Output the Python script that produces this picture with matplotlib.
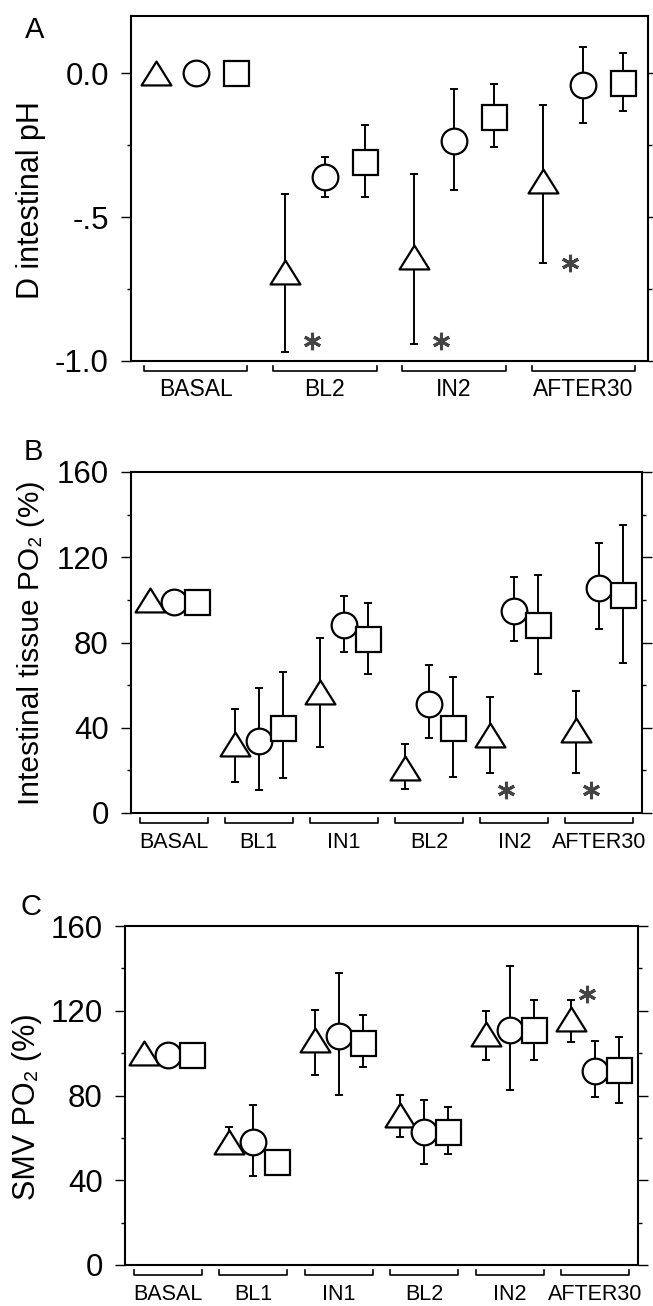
import numpy as np
import matplotlib
matplotlib.use("Agg")
import matplotlib.pyplot as plt
from matplotlib.path import Path

plt.rcParams['font.family'] = ['Liberation Sans', 'DejaVu Sans']

# ---- data ----
groups_A = ["BASAL", "BL2", "IN2", "AFTER30"]
groups_BC = ["BASAL", "BL1", "IN1", "BL2", "IN2", "AFTER30"]

# panel A: delta intestinal pH (mean, whisker low, whisker high)
tri_A = [0, -0.69, -0.64, -0.375]
tri_A_lo = [0, -0.97, -0.94, -0.66]
tri_A_hi = [0, -0.42, -0.35, -0.11]
cir_A = [0, -0.36, -0.236, -0.042]
cir_A_lo = [0, -0.43, -0.406, -0.173]
cir_A_hi = [0, -0.29, -0.056, 0.091]
sq_A = [0, -0.31, -0.152, -0.035]
sq_A_lo = [0, -0.43, -0.256, -0.132]
sq_A_hi = [0, -0.18, -0.038, 0.07]
star_A_group = [1, 2, 3]
star_A_y = [-0.93, -0.93, -0.66]

# panel B: intestinal tissue PO2 (%)
tri_B = [100, 32.5, 57, 21, 36.6, 39]
tri_B_lo = [100, 14.4, 30.8, 11.1, 18.6, 18.6]
tri_B_hi = [100, 48.6, 82, 32.4, 54.3, 57.2]
cir_B = [99, 34, 88, 51, 95, 105.7]
cir_B_lo = [99, 10.8, 75.4, 35, 80.9, 86.3]
cir_B_hi = [99, 58.8, 101.8, 69.4, 110.9, 126.5]
sq_B = [99, 40, 81.6, 40, 88, 102.3]
sq_B_lo = [99, 16.3, 65.2, 17, 65, 70.2]
sq_B_hi = [99, 66, 98.7, 64, 111.7, 135]
star_B_group = [4, 5]
star_B_y = [10.8, 10.8]

# panel C: SMV PO2 (%)
tri_C = [100, 58, 106, 71, 109, 116]
tri_C_lo = [100, 52.5, 89.7, 60.3, 96.6, 105.4]
tri_C_hi = [100, 65.3, 120.2, 80.3, 120, 125.2]
cir_C = [99, 58, 108, 62.6, 110.8, 91.6]
cir_C_lo = [99, 41.8, 80.2, 47.8, 82.5, 79.1]
cir_C_hi = [99, 75.6, 137.8, 78, 141.2, 105.7]
sq_C = [99, 48.5, 105, 63, 110.7, 91.9]
sq_C_lo = [99, 46, 93.5, 52.5, 96.6, 76.4]
sq_C_hi = [99, 51, 118.2, 74.7, 125.2, 107.5]
star_C_group = [5]
star_C_y = [128]

W, H = 653, 1306
fig = plt.figure(figsize=(W / 100, H / 100), dpi=100)


def px_axes(l, t, r, b):
    return fig.add_axes([l / W, 1 - b / H, (r - l) / W, (b - t) / H])


# wide triangle marker
tri_marker = Path([(0, 0.4), (-0.5, -0.4), (0.5, -0.4), (0, 0.4)],
                  [Path.MOVETO, Path.LINETO, Path.LINETO, Path.CLOSEPOLY])


def series(ax, x, y, lo, hi, marker, ms):
    y = np.array(y, float)
    err = [y - np.array(lo), np.array(hi) - y]
    ax.errorbar(x, y, yerr=err, fmt='none', ecolor='k', elinewidth=1.4,
                capsize=2.6, capthick=1.4)
    ax.plot(x, y, ls='none', marker=marker, ms=ms, mfc='white', mec='k',
            mew=1.6, zorder=3, clip_on=False)


def panel(ax, groups, data, off, stars, letter, ylabel, lab_x, lab_y,
          let_x, let_y, lab_size, cat_size):
    n = len(groups)
    g = np.arange(n)
    (t, tl, th), (c, cl, ch), (s, sl, sh) = data
    series(ax, g - off, t, tl, th, tri_marker, 21.5)
    series(ax, g + 0.0, c, cl, ch, 'o', 18.5)
    series(ax, g + off, s, sl, sh, 's', 18)
    sg, sy = stars
    ax.plot(np.array(sg) - 0.1, sy, ls='none', marker=(6, 2, 0), ms=12.5,
            mec='#444444', mew=2.2, clip_on=False)

    ax.set_xlim(-0.5, n - 0.5)
    ax.set_xticks([])
    for sp in ax.spines.values():
        sp.set_linewidth(1.5)
    ax.tick_params(axis='y', which='major', direction='out', length=7,
                   width=1, pad=9, labelsize=22.5, left=True, right=True)
    ax.tick_params(axis='y', which='minor', direction='out', length=3,
                   width=1, left=True, right=True)

    # brackets with group names under the axis
    h_px = ax.get_position().height * H
    tr = ax.get_xaxis_transform()
    for i, name in enumerate(groups):
        x0, x1 = i - 0.4, i + 0.4
        yt, yb = -5 / h_px, -10 / h_px
        ax.plot([x0, x0, x1, x1], [yt, yb, yb, yt], transform=tr,
                color='k', lw=1.2, clip_on=False)
        ax.text(i, -29 / h_px, name, transform=tr, ha='center', va='center',
                fontsize=cat_size)

    fig.text(lab_x / W, 1 - lab_y / H, ylabel, rotation=90, ha='center',
             va='center', fontsize=lab_size)
    fig.text(let_x / W, 1 - let_y / H, letter, ha='center', va='center',
             fontsize=21)


axA = px_axes(131, 16, 648, 361)
axB = px_axes(131, 472, 642, 813)
axC = px_axes(125, 926, 638, 1265)

panel(axA, groups_A,
      [(tri_A, tri_A_lo, tri_A_hi), (cir_A, cir_A_lo, cir_A_hi),
       (sq_A, sq_A_lo, sq_A_hi)], 0.31, (star_A_group, star_A_y),
      "A", "D intestinal pH", 31, 200, 35, 30, 22, 16.5)
axA.set_ylim(-1.0, 0.198)
axA.set_yticks([0.0, -0.5, -1.0], labels=["0.0", "-.5", "-1.0"])
axA.set_yticks([-0.25, -0.75], minor=True)

panel(axB, groups_BC,
      [(tri_B, tri_B_lo, tri_B_hi), (cir_B, cir_B_lo, cir_B_hi),
       (sq_B, sq_B_lo, sq_B_hi)], 0.28, (star_B_group, star_B_y),
      "B", "Intestinal tissue PO\u2082 (%)", 31, 643, 33, 452, 21.5, 15.5)

panel(axC, groups_BC,
      [(tri_C, tri_C_lo, tri_C_hi), (cir_C, cir_C_lo, cir_C_hi),
       (sq_C, sq_C_lo, sq_C_hi)], 0.28, (star_C_group, star_C_y),
      "C", "SMV PO\u2082 (%)", 27, 1107, 31, 907, 22, 15.5)

for ax in (axB, axC):
    ax.set_ylim(0, 160)
    ax.set_yticks([0, 40, 80, 120, 160])
    ax.set_yticks([20, 60, 100, 140], minor=True)

fig.savefig("out.png", dpi=100)
